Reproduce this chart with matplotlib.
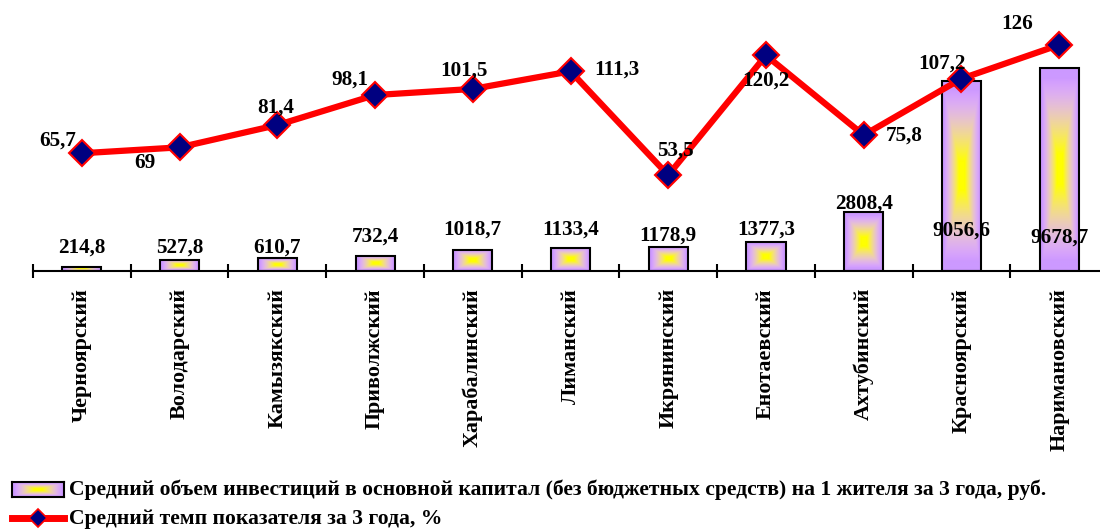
import numpy as np
import matplotlib
matplotlib.use("Agg")
import matplotlib.pyplot as plt
from matplotlib.lines import Line2D

plt.rcParams["font.family"] = ["Liberation Serif", "DejaVu Serif"]
plt.rcParams["font.weight"] = "bold"

districts = ["Черноярский", "Володарский", "Камызякский", "Приволжский",
             "Харабалинский", "Лиманский", "Икрянинский", "Енотаевский",
             "Ахтубинский", "Красноярский", "Наримановский"]
invest = [214.8, 527.8, 610.7, 732.4, 1018.7, 1133.4, 1178.9, 1377.3,
          2808.4, 9056.6, 9678.7]
invest_text = ["214,8", "527,8", "610,7", "732,4", "1018,7", "1133,4",
               "1178,9", "1377,3", "2808,4", "9056,6", "9678,7"]
rate = [65.7, 69, 81.4, 98.1, 101.5, 111.3, 53.5, 120.2, 75.8, 107.2, 126]
rate_text = ["65,7", "69", "81,4", "98,1", "101,5", "111,3", "53,5",
             "120,2", "75,8", "107,2", "126"]

legend_bar = ("Средний объем инвестиций в основной капитал (без бюджетных "
              "средств) на 1 жителя за 3 года, руб.")
legend_line = "Средний темп показателя за 3 года, %"

# label offsets in pixels, picked to sit where the original puts them
bar_label_dy = [19, 13, 11, 19, 20, 18, 11, 13, 9, -149, -169]
rate_label_off = [(-24, 13), (-35, -16), (-2, 17), (-25, 15), (-9, 18),
                  (46, 2), (7, 25), (0, -25), (41, 0), (-19, 15), (-42, 21)]

W, H = 1100, 531


def rect_gradient(ny=160, nx=60):
    """Rectangular 'from centre' fill: yellow core, violet edges.
    Blue fades late, red/green rise early -> pinkish middle tones."""
    u = np.abs(np.linspace(-1, 1, nx))
    v = np.abs(np.linspace(-1, 1, ny))
    t = np.maximum(u[None, :], v[:, None])
    s = np.clip((0.9 - t) / 0.75, 0, 1)
    r = 204 + 51 * s ** 0.7
    g = 153 + 102 * s
    b = 255 * (1 - s ** 1.8)
    return np.dstack([r, g, b]) / 255.0


fig = plt.figure(figsize=(W / 100, H / 100), dpi=100)
axis_y = 271.3
ax = fig.add_axes([33 / W, 1 - axis_y / H, 1075 / W, axis_y / H])

x = np.arange(len(districts))
bars = ax.bar(x, invest, width=0.4, facecolor="none", edgecolor="black",
              linewidth=1.5, zorder=3)
grad = rect_gradient()
for b in bars:
    ax.imshow(grad, extent=[b.get_x(), b.get_x() + b.get_width(), 0,
                            b.get_height()],
              aspect="auto", zorder=2, interpolation="bilinear")
ax.set_xlim(-0.5, len(districts) - 0.5)
ax.set_ylim(0, 12930)

for xi, v, s, dy in zip(x, invest, invest_text, bar_label_dy):
    ax.annotate(s, (xi, v), xytext=(0, dy), textcoords="offset pixels",
                ha="center", va="center", fontsize=15.2, fontweight="bold",
                zorder=6)

for side in ("top", "left", "right"):
    ax.spines[side].set_visible(False)
ax.spines["bottom"].set_linewidth(1.5)
ax.set_yticks([])
ax.set_xticks(x)
ax.set_xticklabels(districts, rotation=90, fontsize=15.8, fontweight="bold")
ax.tick_params(axis="x", which="major", length=0, pad=12)
ax.set_xticks(np.arange(-0.5, len(districts), 1), minor=True)
ax.tick_params(axis="x", which="minor", direction="inout", length=9.5,
               width=1.5)

ax2 = ax.twinx()
ax2.plot(x, rate, color="red", linewidth=4.5, marker="D", markersize=13,
         markerfacecolor="#000080", markeredgecolor="red",
         markeredgewidth=1.5, zorder=5)
ax2.set_ylim(0, 151)
ax2.set_yticks([])
for side in ax2.spines:
    ax2.spines[side].set_visible(False)
for xi, v, s, (dx, dy) in zip(x, rate, rate_text, rate_label_off):
    ax2.annotate(s, (xi, v), xytext=(dx, dy), textcoords="offset pixels",
                 ha="center", va="center", fontsize=15.2, fontweight="bold",
                 zorder=6)

# legend, drawn by hand at the bottom left
lax = fig.add_axes([11.5 / W, 1 - 497 / H, 52.5 / W, 15 / H])
lax.imshow(rect_gradient(30, 100), aspect="auto", interpolation="bilinear")
lax.set_xticks([])
lax.set_yticks([])
for sp in lax.spines.values():
    sp.set_linewidth(1.5)
fig.text(69 / W, 1 - 489.5 / H, legend_bar, fontsize=15.6, fontweight="bold",
         va="center", ha="left")

ly = 1 - 518 / H
fig.add_artist(Line2D([11.5 / W, 64 / W], [ly, ly], transform=fig.transFigure,
                      color="red", linewidth=5))
fig.add_artist(Line2D([38 / W], [ly], transform=fig.transFigure, marker="D",
                      markersize=9, markerfacecolor="#000080",
                      markeredgecolor="red", markeredgewidth=1.2))
fig.text(69 / W, 1 - 519 / H, legend_line, fontsize=15.6, fontweight="bold",
         va="center", ha="left")

fig.savefig("out.png", dpi=100)
